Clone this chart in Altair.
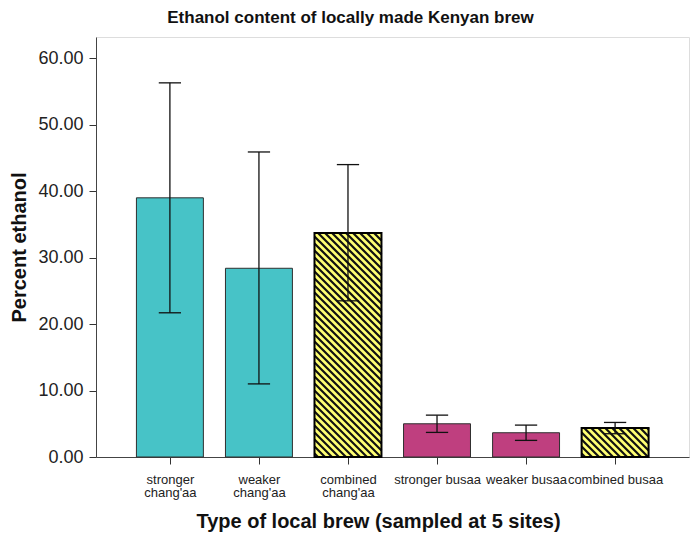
import json
import altair as alt
import pandas as pd

# ---- data ----
categories = ["stronger chang'aa", "weaker chang'aa", "combined chang'aa",
              "stronger busaa", "weaker busaa", "combined busaa"]
tick_labels = ["stronger|chang'aa", "weaker|chang'aa", "combined|chang'aa",
               "stronger busaa", "weaker busaa", "combined busaa"]
groups = ["changaa", "changaa", "combined", "busaa", "busaa", "combined"]
means = [39.0, 28.4, 33.7, 5.0, 3.65, 4.35]
err_low = [21.7, 11.0, 23.5, 3.7, 2.5, 3.5]
err_high = [56.3, 45.9, 44.0, 6.3, 4.8, 5.2]
y_ticks = [0, 10, 20, 30, 40, 50, 60]

# ---- layout constants ----
W, H = 593, 420
Y_MAX = 63.2
X_MIN, X_MAX = -0.83, 5.83
HALF_BAR = 0.376
CAP_HALF = 0.125
FONT = "Liberation Sans"

idx = list(range(len(categories)))
df = pd.DataFrame({
    "i": idx,
    "cat": categories,
    "group": groups,
    "mean": means,
    "lo": err_low,
    "hi": err_high,
})
df["x0"] = df["i"] - HALF_BAR
df["x1"] = df["i"] + HALF_BAR
df["c0"] = df["i"] - CAP_HALF
df["c1"] = df["i"] + CAP_HALF

# hatch segments for the "combined" bars, computed in pixel space then mapped back
px_x = W / (X_MAX - X_MIN)
px_y = H / Y_MAX
period = 7.0
segs = []
for _, r in df[df["group"] == "combined"].iterrows():
    x0p = (r["x0"] - X_MIN) * px_x
    x1p = (r["x1"] - X_MIN) * px_x
    hp = r["mean"] * px_y
    # lines: xp + yp = c  (yp measured upward)
    c = x0p + period / 2
    while c < x1p + hp:
        pts = []
        for xp in (x0p, x1p):
            yp = c - xp
            if 0 <= yp <= hp:
                pts.append((xp, yp))
        for yp in (0.0, hp):
            xp = c - yp
            if x0p <= xp <= x1p:
                pts.append((xp, yp))
        if len(pts) >= 2:
            pts = sorted(set(pts))
            (ax, ay), (bx, by) = pts[0], pts[-1]
            segs.append({
                "hx": ax / px_x + X_MIN, "hy": ay / px_y,
                "hx2": bx / px_x + X_MIN, "hy2": by / px_y,
            })
        c += period
hatch = pd.DataFrame(segs)

xscale = alt.Scale(domain=[X_MIN, X_MAX], nice=False, zero=False)
yscale = alt.Scale(domain=[0, Y_MAX], nice=False)
color_scale = alt.Scale(domain=["changaa", "combined", "busaa"],
                        range=["#47C3C7", "#FFFF73", "#BF3F7F"])

label_expr = f"split({json.dumps(tick_labels)}[datum.value], '|')"

base = alt.Chart(df)

bars = base.mark_bar(stroke="#2f2f2f", strokeWidth=1).encode(
    x=alt.X("x0:Q", scale=xscale, axis=alt.Axis(
        values=idx, labelExpr=label_expr, title="Type of local brew (sampled at 5 sites)",
        grid=False, tickSize=7, tickColor="#333", domainColor="#444",
        labelFontSize=13, labelFont=FONT, labelColor="#222", labelPadding=9,
        labelLineHeight=13, labelFlush=False, labelOverlap=False, labelBound=False,
        titleFont=FONT, titleFontSize=20, titleFontWeight="bold", titleColor="#111",
        titlePadding=12, titleX=282, titleAlign="center")),
    x2="x1:Q",
    y=alt.Y("mean:Q", scale=yscale, axis=alt.Axis(
        values=y_ticks, format=".2f", title="Percent ethanol", grid=False,
        tickSize=7, tickColor="#333", domainColor="#444",
        labelFontSize=18, labelFont=FONT, labelColor="#222", labelPadding=6,
        titleFont=FONT, titleFontSize=20, titleFontWeight="bold", titleColor="#111",
        titlePadding=8)),
    y2=alt.datum(0),
    color=alt.Color("group:N", scale=color_scale, legend=None),
)

hatch_layer = alt.Chart(hatch).mark_rule(color="#111", strokeWidth=2.2).encode(
    x=alt.X("hx:Q", scale=xscale),
    x2="hx2:Q",
    y=alt.Y("hy:Q", scale=yscale),
    y2="hy2:Q",
)

outlines = base.transform_filter(alt.datum.group == "combined").mark_bar(
    fillOpacity=0, stroke="#000", strokeWidth=2
).encode(
    x=alt.X("x0:Q", scale=xscale),
    x2="x1:Q",
    y=alt.Y("mean:Q", scale=yscale),
    y2=alt.datum(0),
)

err_v = base.mark_rule(color="#111", strokeWidth=1.3).encode(
    x=alt.X("i:Q", scale=xscale),
    y=alt.Y("lo:Q", scale=yscale),
    y2="hi:Q",
)
cap_hi = base.mark_rule(color="#111", strokeWidth=1.3).encode(
    x=alt.X("c0:Q", scale=xscale), x2="c1:Q",
    y=alt.Y("hi:Q", scale=yscale),
)
cap_lo = base.mark_rule(color="#111", strokeWidth=1.3).encode(
    x=alt.X("c0:Q", scale=xscale), x2="c1:Q",
    y=alt.Y("lo:Q", scale=yscale),
)

chart = alt.layer(bars, hatch_layer, outlines, err_v, cap_hi, cap_lo).properties(
    width=W, height=H,
    autosize=alt.AutoSizeParams(type="none"),
    padding={"left": 88, "top": 29, "right": 2, "bottom": 85},
    title=alt.TitleParams("Ethanol content of locally made Kenyan brew",
                          font=FONT, fontSize=17, fontWeight="bold", color="#111",
                          anchor="middle", dx=-42, offset=10),
).configure_view(stroke="#444", strokeWidth=1).configure(background="white")

chart.save("out.html", embed_options={"renderer": "svg", "actions": False})
